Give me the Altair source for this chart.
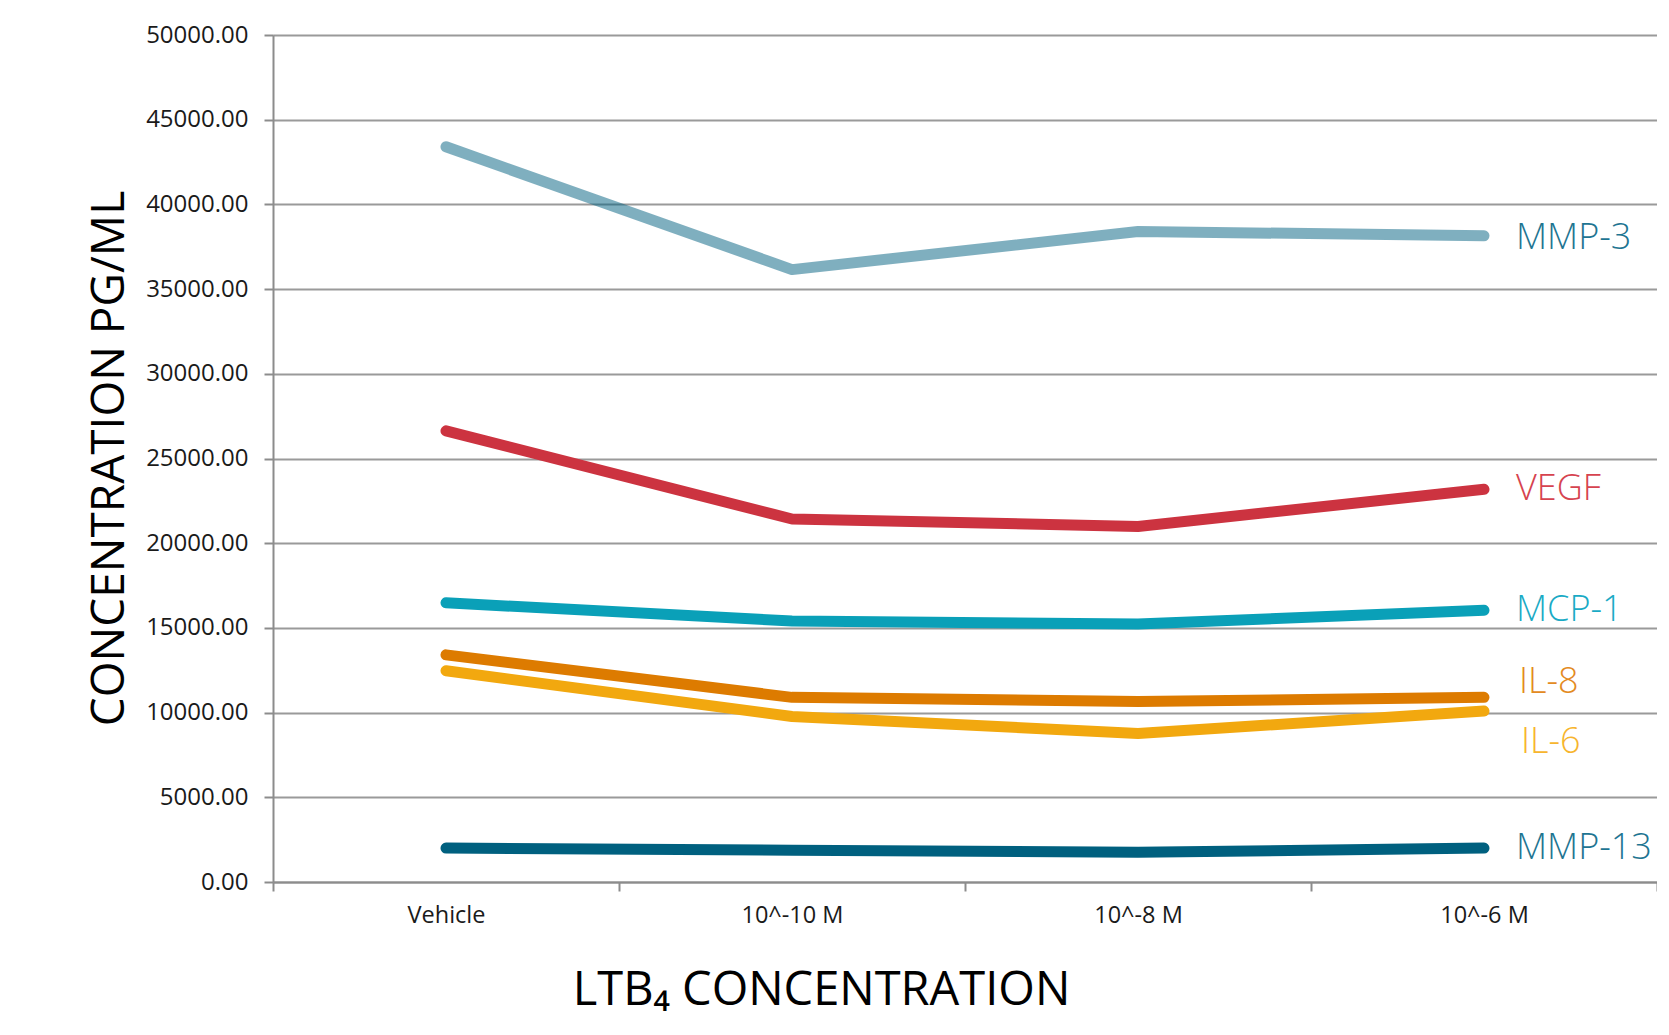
import altair as alt
import pandas as pd

categories = ["Vehicle", "10^-10 M", "10^-8 M", "10^-6 M"]
series = ["MMP-3", "VEGF", "MCP-1", "IL-8", "IL-6", "MMP-13"]
mmp3 = [43400, 36150, 38400, 38150]
vegf = [26630, 21430, 20990, 23180]
mcp1 = [16480, 15410, 15230, 16040]
il8 = [13410, 10900, 10650, 10900]
il6 = [12470, 9770, 8770, 10090]
mmp13 = [2000, 1880, 1750, 2000]
y_ticks = [0, 5000, 10000, 15000, 20000, 25000, 30000, 35000, 40000, 45000, 50000]

line_colors = ["rgba(0,96,128,0.5)", "#CC3340", "#0AA0B8", "#DD7B00", "#F2A80F", "#00607F"]
label_colors = ["#1e7592", "#D6434F", "#1AAAC5", "#E38A22", "#F7B52E", "#1e7592"]
label_dx = [32, 32, 32, 35, 37, 32]
label_dy = [2, 0, 0, -15, 31, 0]

values = [mmp3, vegf, mcp1, il8, il6, mmp13]
rows = []
for s, vals in zip(series, values):
    for c, v in zip(categories, vals):
        rows.append({"series": s, "cat": c, "value": v})
df = pd.DataFrame(rows)

x_enc = alt.X(
    "cat:N",
    sort=categories,
    scale=alt.Scale(paddingInner=0, paddingOuter=0),
    axis=alt.Axis(
        title="LTB₄ CONCENTRATION",
        titleFont="Open Sans",
        titleFontSize=47,
        titleFontWeight="normal",
        titleColor="#000000",
        titleX=548,
        titleY=122,
        titleAlign="center",
        titleBaseline="alphabetic",
        labelAngle=0,
        labelFont="Open Sans",
        labelFontSize=23.5,
        labelColor="#1a1a1a",
        labelPadding=12,
        tickBand="extent",
        tickSize=9,
        tickColor="#8c8c8c",
        tickWidth=2,
        domainColor="#8c8c8c",
        domainWidth=2,
        grid=False,
    ),
)
y_enc = alt.Y(
    "value:Q",
    scale=alt.Scale(domain=[0, 50000], nice=False),
    axis=alt.Axis(
        title="CONCENTRATION PG/ML",
        titleFont="Open Sans",
        titleFontSize=46,
        titleFontWeight="normal",
        titleColor="#000000",
        titleX=-164,
        titleY=423,
        titleAngle=270,
        titleAlign="center",
        titleBaseline="middle",
        values=y_ticks,
        format=".2f",
        labelFont="Open Sans",
        labelFontSize=24,
        labelColor="#1a1a1a",
        labelPadding=16,
        tickSize=9,
        tickColor="#8c8c8c",
        tickWidth=2,
        domainColor="#8c8c8c",
        domainWidth=2,
        grid=True,
        gridColor="#9a9a9a",
        gridWidth=2,
    ),
)

lines = alt.Chart(df).mark_line(strokeWidth=11, strokeCap="round", strokeJoin="round").encode(
    x=x_enc,
    y=y_enc,
    color=alt.Color("series:N", scale=alt.Scale(domain=series, range=line_colors), legend=None),
    detail="series:N",
)

layers = [lines]
for s, col, dx, dy in zip(series, label_colors, label_dx, label_dy):
    lab = alt.Chart(df).transform_filter(
        (alt.datum.series == s) & (alt.datum.cat == categories[-1])
    ).mark_text(
        align="left", baseline="middle", dx=dx, dy=dy,
        font="Open Sans", fontSize=36, fontWeight=300, color=col,
    ).encode(
        x=alt.X("cat:N", sort=categories),
        y=alt.Y("value:Q"),
        text="series:N",
    )
    layers.append(lab)

chart = alt.layer(*layers).properties(
    width=1384,
    height=847,
    autosize=alt.AutoSizeParams(type="none"),
    padding={"left": 265, "top": 27, "right": 0, "bottom": 137},
).configure_view(stroke=None).configure(background="white")

chart.save("out.html", embed_options={"renderer": "svg", "actions": False})
